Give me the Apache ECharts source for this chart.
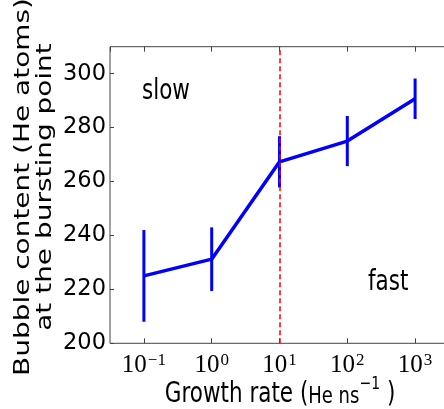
<!DOCTYPE html>
<html>
<head>
<meta charset="utf-8">
<script src="https://cdn.jsdelivr.net/npm/echarts@6/dist/echarts.min.js"></script>
<style>
  html, body { margin: 0; padding: 0; background: #fff; overflow: hidden; }
  #chart { width: 444px; height: 409px; }
</style>
</head>
<body>
<div id="chart"></div>
<script>
// Growth rate (He per ns), log scale
const growthRates = [0.1, 1, 10, 100, 1000];
// Bubble content at the bursting point (He atoms)
const bubbleContent = [225, 231.2, 267.3, 275, 290.7];
// half-width of the error bars (He atoms)
const bubbleError = [17, 11.8, 9.5, 9.3, 7.5];
// growth rate separating the slow and fast regimes
const thresholdRate = 10;
// y-axis tick labels
const yTicks = [200, 220, 240, 260, 280, 300];
const supDigits = { '-1': '\u22121', '0': '0', '1': '1', '2': '2', '3': '3' };

const chart = echarts.init(document.getElementById('chart'), null, { renderer: 'canvas' });

const SANS = 'DejaVu Sans';
const SERIF = 'Liberation Serif';
const FRAME = '#444';
const BLUE = '#0000ff';
const TALL = 1.3; // vertical stretch of the lettering

const errData = growthRates.map((x, i) => [x, bubbleContent[i] - bubbleError[i], bubbleContent[i] + bubbleError[i]]);
const lineData = growthRates.map((x, i) => [x, bubbleContent[i]]);

function powLabel(v) {
  const key = String(Math.round(Math.log10(v)));
  return '{b|10}{s|' + (supDigits[key] || key) + '}';
}

const xCommon = {
  type: 'log',
  logBase: 10,
  min: Math.pow(10, -1.5),
  max: Math.pow(10, 3.5),
  splitLine: { show: false },
  axisLine: { show: false },
  axisTick: { show: true, inside: true, length: 5, lineStyle: { color: FRAME, width: 1 } },
  minorTick: { show: false }
};

chart.setOption({
  animation: false,
  backgroundColor: '#fff',
  grid: {
    left: 110, top: 46.7, width: 339, height: 296.6,
    outerBoundsMode: 'none', containLabel: false,
    show: true, borderColor: FRAME, borderWidth: 1, backgroundColor: 'transparent'
  },
  xAxis: [
    Object.assign({}, xCommon, {
      position: 'bottom',
      axisLabel: {
        show: true, margin: 9, showMinLabel: false, showMaxLabel: false,
        formatter: powLabel,
        rich: {
          b: { fontFamily: SERIF, fontSize: 25, color: '#000', lineHeight: 26, verticalAlign: 'bottom' },
          s: { fontFamily: SERIF, fontSize: 17, color: '#000', lineHeight: 26, verticalAlign: 'top', padding: [0, 0, 0, 1] }
        }
      }
    }),
    Object.assign({}, xCommon, {
      position: 'top',
      axisLabel: { show: false }
    })
  ],
  yAxis: {
    type: 'value',
    min: yTicks[0],
    max: 310,
    interval: 20,
    splitLine: { show: false },
    axisLine: { show: false },
    axisTick: { show: true, inside: true, length: 4, lineStyle: { color: FRAME, width: 1 } },
    axisLabel: {
      margin: 4, showMaxLabel: false,
      fontFamily: SANS, fontSize: 22.5, color: '#000',
      formatter: v => (yTicks.indexOf(v) >= 0 ? String(v) : '')
    }
  },
  graphic: [
    {
      type: 'text', x: 34.5, y: 187, rotation: Math.PI / 2, scaleX: TALL,
      style: {
        text: 'Bubble content (He atoms)\nat the bursting point',
        fontFamily: SANS, fontSize: 21.5, lineHeight: 21.5, fill: '#000',
        textAlign: 'center', textVerticalAlign: 'middle'
      }
    },
    {
      type: 'text', x: 142, y: 92, scaleY: TALL,
      style: { text: 'slow', fontFamily: SANS, fontSize: 21.5, fill: '#000', textAlign: 'left', textVerticalAlign: 'middle' }
    },
    {
      type: 'text', x: 368, y: 282.5, scaleY: TALL,
      style: { text: 'fast', fontFamily: SANS, fontSize: 21.5, fill: '#000', textAlign: 'left', textVerticalAlign: 'middle' }
    },
    {
      type: 'text', x: 280, y: 392, scaleY: TALL,
      style: {
        text: '{a|Growth rate (}{h|He ns}{s|\u22121}{a| )}',
        textAlign: 'center', textVerticalAlign: 'middle',
        rich: {
          a: { fontFamily: SANS, fontSize: 21.5, fill: '#000', lineHeight: 26, verticalAlign: 'bottom' },
          h: { fontFamily: SANS, fontSize: 18, fill: '#000', lineHeight: 26, verticalAlign: 'bottom' },
          s: { fontFamily: SANS, fontSize: 14, fill: '#000', lineHeight: 26, verticalAlign: 'top' }
        }
      }
    }
  ],
  series: [
    {
      type: 'custom',
      name: 'error',
      xAxisIndex: 0,
      data: errData,
      encode: { x: 0, y: [1, 2] },
      z: 2,
      renderItem: function (params, api) {
        const x = api.value(0);
        const p1 = api.coord([x, api.value(1)]);
        const p2 = api.coord([x, api.value(2)]);
        return {
          type: 'line',
          shape: { x1: p1[0], y1: p1[1], x2: p2[0], y2: p2[1] },
          style: { stroke: BLUE, lineWidth: 3 }
        };
      }
    },
    {
      type: 'line',
      name: 'content',
      xAxisIndex: 0,
      data: lineData,
      symbol: 'none',
      z: 3,
      lineStyle: { color: BLUE, width: 3.5 }
    },
    {
      type: 'line',
      name: 'threshold',
      xAxisIndex: 0,
      data: [],
      z: 5,
      markLine: {
        silent: true,
        symbol: ['none', 'none'],
        label: { show: false },
        lineStyle: { color: '#ff0000', width: 1.5, type: [5, 3] },
        data: [{ xAxis: thresholdRate }]
      }
    }
  ]
});
</script>
</body>
</html>
